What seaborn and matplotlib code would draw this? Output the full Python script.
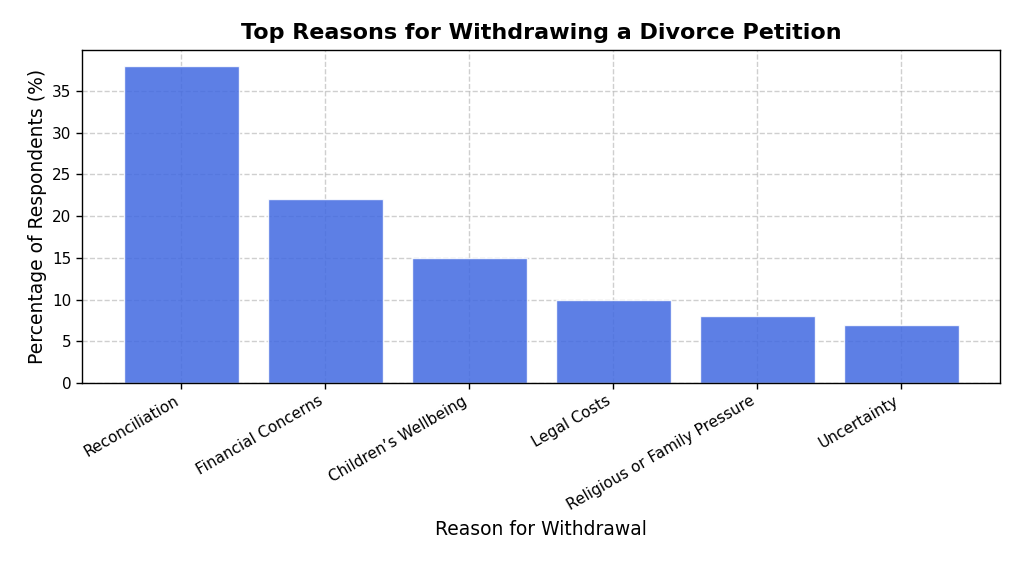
import matplotlib
matplotlib.use("Agg")
import matplotlib.pyplot as plt
import seaborn as sns
import pandas as pd

reasons = ["Reconciliation", "Financial Concerns", "Children\u2019s Wellbeing",
           "Legal Costs", "Religious or Family Pressure", "Uncertainty"]
percentages = [38, 22, 15, 10, 8, 7]

df = pd.DataFrame({"reason": reasons, "percent": percentages})

sns.set_style("white")
plt.rcParams['font.family'] = ['DejaVu Sans']
plt.rcParams['text.color'] = 'black'
plt.rcParams['axes.labelcolor'] = 'black'
plt.rcParams['xtick.color'] = 'black'
plt.rcParams['ytick.color'] = 'black'

fig, ax = plt.subplots(figsize=(10.24, 5.69), dpi=100)
sns.barplot(data=df, x="reason", y="percent", color="royalblue", alpha=0.85,
            width=0.8, saturation=1, ax=ax)
ax.set_xlim(-0.69, 5.69)
ax.set_ylim(0, 39.9)

ax.set_title("Top Reasons for Withdrawing a Divorce Petition", fontsize=16,
             fontweight="bold", color="black", pad=8)
ax.set_xlabel("Reason for Withdrawal", fontsize=13.5, labelpad=5)
ax.set_ylabel("Percentage of Respondents (%)", fontsize=13.5)
ax.tick_params(axis="both", labelsize=11, length=4, width=1, bottom=True, left=True)
plt.setp(ax.get_xticklabels(), rotation=30, ha="right")
ax.grid(True, linestyle="--", color="#b0b0b0", alpha=0.6, linewidth=1)
for s in ax.spines.values():
    s.set_color("black")
    s.set_linewidth(1)

fig.subplots_adjust(left=0.08, right=0.977, top=0.912, bottom=0.327)
fig.savefig("out.png", dpi=100)
